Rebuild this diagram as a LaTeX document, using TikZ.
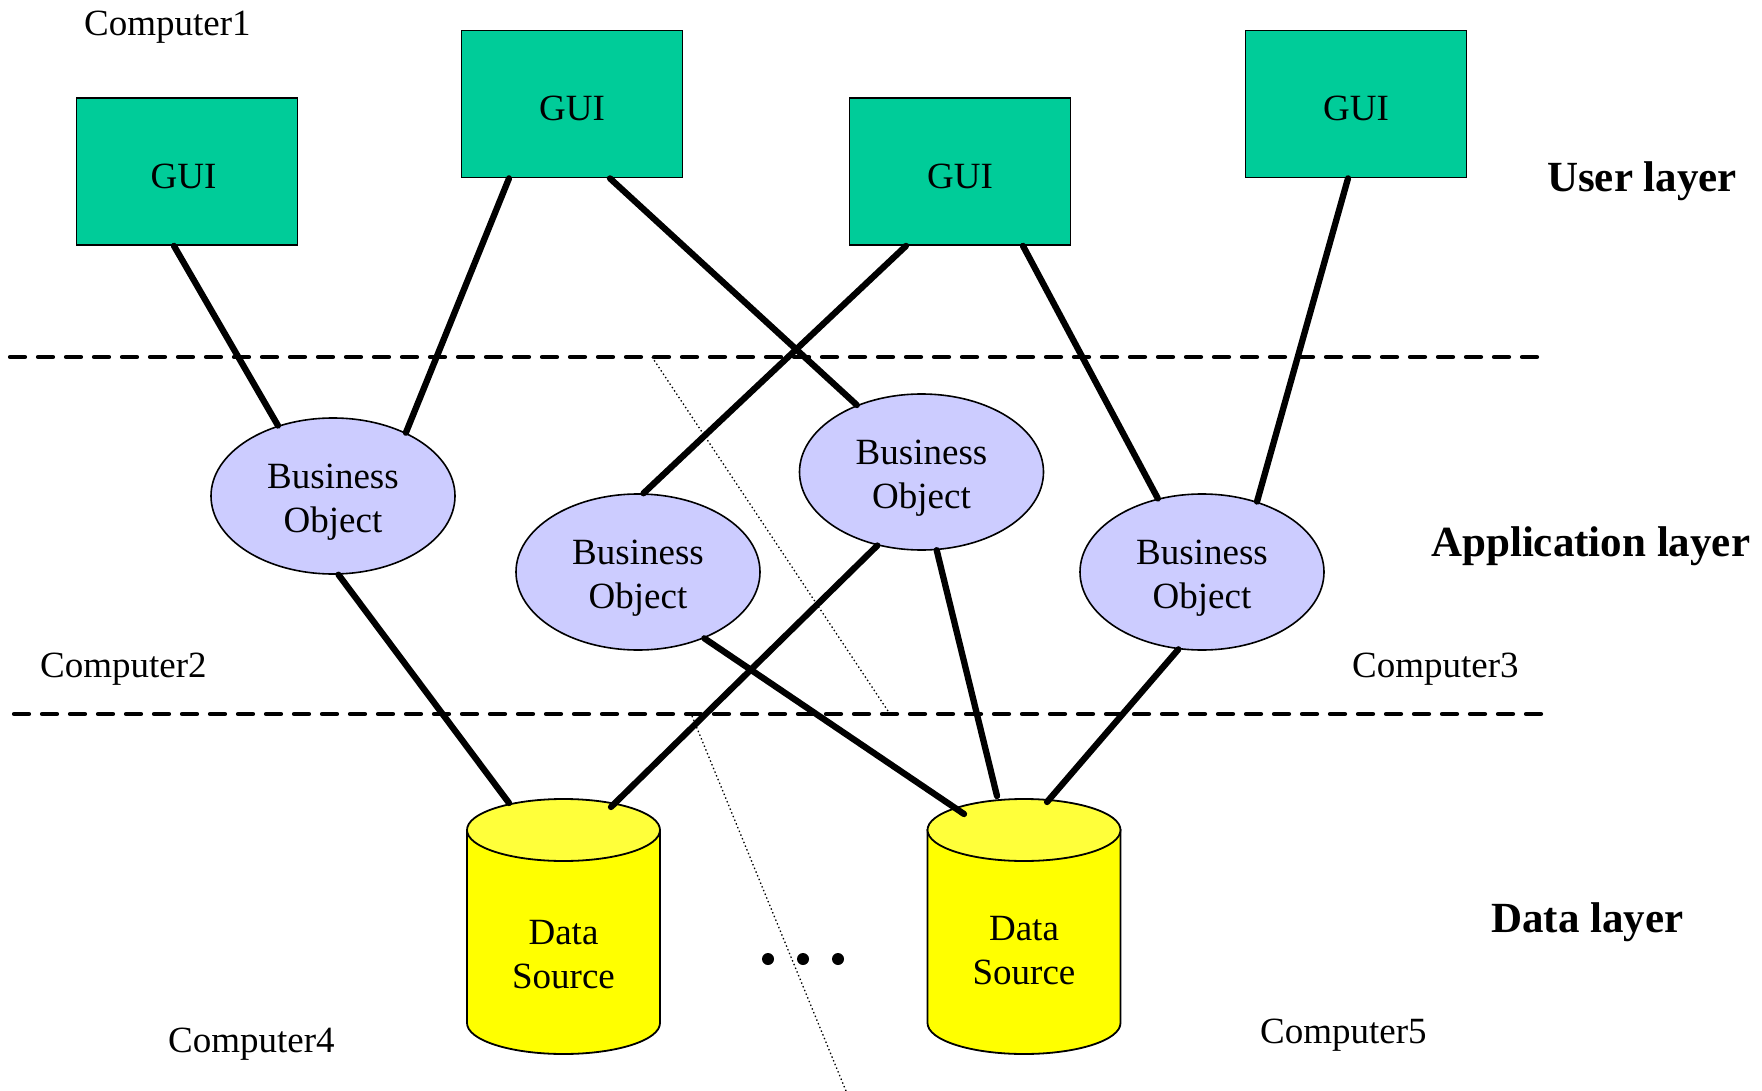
\documentclass[tikz,border=0pt]{standalone}
\usepackage{fontspec}
\setmainfont{Liberation Serif}
\usetikzlibrary{shapes.geometric}

\definecolor{guigreen}{HTML}{00CC99}
\definecolor{bolilac}{HTML}{CCCCFF}
\definecolor{dsyellow}{HTML}{FFFF00}
\definecolor{dstop}{HTML}{FFFF3A}

% cylinder drawn inside the rectangle of a (hidden) data-source node
\newcommand\drawdatasource[1]{%
  \draw[dsline, fill=dsyellow]
    ([yshift=-31pt]#1.north west) -- ([yshift=31pt]#1.south west)
    arc[start angle=180, end angle=360, x radius=96.5pt, y radius=31pt]
    -- ([yshift=-31pt]#1.north east) -- cycle;
  \draw[dsline, fill=dstop] ([yshift=-31pt]#1.north)
    ellipse [x radius=96.5pt, y radius=31pt];
}

\begin{document}
\begin{tikzpicture}[x=1pt, y=-1pt,
  every node/.style={font=\fontsize{37}{44}\selectfont},
  guibox/.style={draw, line width=1.8pt, fill=guigreen,
    minimum width=221pt, minimum height=147pt, inner sep=0pt,
    text height=34pt, text depth=0pt},
  bizobj/.style={ellipse, draw, line width=1.6pt, fill=bolilac,
    minimum width=244pt, minimum height=156pt, inner sep=0pt},
  nodetext/.style={align=center, inner sep=0pt},
  dsbox/.style={rectangle, minimum width=193pt, minimum height=255pt,
    inner sep=0pt, outer sep=0pt},
  dsline/.style={line width=1.8pt},
  compname/.style={anchor=base west, inner sep=0pt},
  layername/.style={anchor=base west, inner sep=0pt,
    font=\fontsize{43}{50}\selectfont\bfseries},
  layerline/.style={line width=4.2pt, line cap=round, dash pattern=on 15pt off 13pt},
  splitline/.style={line width=1.3pt, dash pattern=on 1.4pt off 2.6pt},
  link/.style={line width=6.3pt, line cap=round}]

\useasboundingbox (0,0) rectangle (1762,1091);

% layer separators
\draw[layerline] (10,357) -- (1542,357);
\draw[layerline] (14,714) -- (1546,714);

% computer boundaries
\draw[splitline] (652,357) -- (890,714);
\draw[splitline] (692,716) -- (846,1091);

% user layer
\node[guibox] (gui1) at (187,171.5) {\hspace*{-7pt}GUI};
\node[guibox] (gui2) at (572,104) {GUI};
\node[guibox] (gui3) at (960,171.5) {GUI};
\node[guibox] (gui4) at (1356,104) {GUI};

% application layer
\node[bizobj] (bo1) at (333,496) {};
\node[bizobj] (bo2) at (638,572) {};
\node[bizobj] (bo3) at (921.5,472) {};
\node[bizobj] (bo4) at (1202,572) {};
\node[nodetext] (bo1t) at ([yshift=-6.5pt]bo1.center) {Business\\Object};
\node[nodetext] (bo2t) at ([yshift=-6.5pt]bo2.center) {Business\\Object};
\node[nodetext] (bo3t) at ([yshift=-6.5pt]bo3.center) {Business\\Object};
\node[nodetext] (bo4t) at ([yshift=-6.5pt]bo4.center) {Business\\Object};

% data layer
\node[dsbox] (ds1) at (563.5,926.5) {};
\node[dsbox] (ds2) at (1024,926.5) {};
\drawdatasource{ds1}
\drawdatasource{ds2}
\node[nodetext] (ds1t) at ([yshift=-28pt]ds1.center) {Data\\Source};
\node[nodetext] (ds2t) at ([yshift=-24pt]ds2.center) {Data\\Source};

\fill (768,959) circle (6pt);
\fill (803,959) circle (6pt);
\fill (838,959) circle (6pt);

% connections
\draw[link] ([xshift=-13pt]gui1.south) -- (bo1.128.6);
\draw[link] ([xshift=-63pt]gui2.south) -- (bo1.41.5);
\draw[link] ([xshift=38pt]gui2.south) -- (bo3.134.6);
\draw[link] ([xshift=-54pt]gui3.south) -- (bo2.86.3);
\draw[link] ([xshift=63pt]gui3.south) -- (bo4.121.6);
\draw[link] ([xshift=-8pt]gui4.south) -- (bo4.52);
\draw[link] (bo1.-86.4) -- ([xshift=-54.5pt,yshift=-4pt]ds1.north);
\draw[link] (bo3.-121.6) -- ([xshift=47.5pt,yshift=-8pt]ds1.north);
\draw[link] (bo2.-45.9) -- ([xshift=-60pt,yshift=-15pt]ds2.north);
\draw[link] (bo3.-79.6) -- ([xshift=-27pt,yshift=3pt]ds2.north);
\draw[link] (bo4.-107) -- ([xshift=23pt,yshift=-3pt]ds2.north);

% labels
\node[compname] (c1) at (84,36) {Computer1};
\node[compname] (c2) at (40,677) {Computer2};
\node[compname] (c3) at (1352,677) {Computer3};
\node[compname] (c4) at (168,1052) {Computer4};
\node[compname] (c5) at (1260,1043) {Computer5};
\node[layername] (ul) at (1547,192) {User layer};
\node[layername] (al) at (1431,556) {Application layer};
\node[layername] (dl) at (1491,932) {Data layer};
\end{tikzpicture}
\end{document}
